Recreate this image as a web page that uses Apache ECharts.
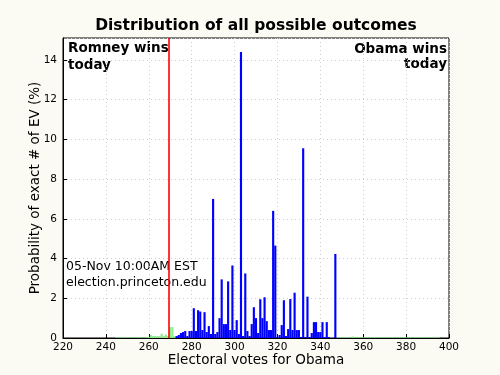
<!DOCTYPE html>
<html>
<head>
<meta charset="utf-8">
<script src="https://cdn.jsdelivr.net/npm/echarts@6/dist/echarts.min.js"></script>
<style>
  html, body { margin: 0; padding: 0; background: #fbfbf3; }
  #chart { width: 500px; height: 375px; }
</style>
</head>
<body>
<div id="chart"></div>
<script>
// electoral votes for Obama, probability of each exact EV count (%)
const xTicks = [220, 240, 260, 280, 300, 320, 340, 360, 380, 400];
const yTicks = [0, 2, 4, 6, 8, 10, 12, 14];
const thresholdEv = 269.5;   // 270 to win

// blue bars, one value per EV starting at blueFirst
const blueFirst = 273;
const bluePct = [
  0.1, 0.15, 0.25, 0.3, 0.35, 0.1, 0.35, 0.35, 1.5, 0.35,   // 273-282
  1.4, 1.33, 0.4, 1.3, 0.3, 0.6, 0.2, 7.0, 0.2, 0.3,        // 283-292
  1.0, 2.95, 0.7, 0.7, 2.85, 0.4, 3.65, 0.4, 0.9, 0.2,      // 293-302
  14.4, 0.1, 3.25, 0.35, 0.1, 0.7, 1.55, 1.0, 0.25, 1.95,   // 303-312
  1.0, 2.05, 0.85, 0.4, 0.4, 6.4, 4.65, 0.05, 0.15, 0.65,   // 313-322
  1.9, 0.1, 0.45, 1.96, 0.4, 2.28, 0.4, 0.4, 0.05, 9.55,    // 323-332
  0.05, 2.08, 0.05, 0.25, 0.8, 0.8, 0.3, 0.3, 0.8, 0.05,    // 333-342
  0.8, 0.05, 0, 0, 4.23                                     // 343-347
];

// green bars, left side starting at greenLeftFirst
const greenLeftFirst = 245;
const greenLeftPct = [
  0.03, 0.03, 0.03, 0.03, 0.03, 0.03, 0.03, 0.03, 0.03, 0.03, // 245-254
  0.03, 0.03, 0.03, 0.03, 0.03, 0.05, 0.15, 0.1, 0.1, 0.1,    // 255-264
  0.1, 0.22, 0.1, 0.17, 0.1, 0.55, 0.55, 0.1                  // 265-272
];
// green tail on the right, starting at greenRightFirst
const greenRightFirst = 348;
const greenRightPct = [
  0.03, 0.03, 0.03, 0.03, 0.03, 0.03, 0.03, 0.08, 0.03, 0.03, // 348-357
  0.03, 0.03, 0.03, 0.03, 0.03, 0.03, 0.03, 0.03, 0.03, 0.03, // 358-367
  0.03, 0.03, 0.03, 0.03, 0.03, 0.03, 0.03, 0.03, 0.03, 0.03, // 368-377
  0.03, 0.03, 0.03, 0.03, 0.03, 0.03, 0.03, 0.03, 0.03, 0.03, // 378-387
  0.03, 0.03, 0.03, 0.03, 0.03, 0.03, 0.03, 0.03              // 388-395
];

function toPairs(first, arr) {
  return arr.map(function (v, i) { return [first + i, v]; });
}

// one bar per EV, 1 EV wide
function renderBar(params, api) {
  const ev = api.value(0);
  const v = api.value(1);
  const p0 = api.coord([ev - 0.5, v]);
  const p1 = api.coord([ev + 0.5, 0]);
  return {
    type: 'rect',
    shape: { x: p0[0], y: p0[1], width: p1[0] - p0[0], height: p1[1] - p0[1] },
    style: { fill: api.visual('color') }
  };
}

const chart = echarts.init(document.getElementById('chart'), null, { renderer: 'canvas' });
const font = 'DejaVu Sans';

const option = {
  backgroundColor: '#fbfbf3',
  animation: false,
  title: {
    text: 'Distribution of all possible outcomes',
    left: 251,
    textAlign: 'center',
    top: 13,
    textStyle: { fontFamily: font, fontSize: 15.5, fontWeight: 'bold', color: '#000' }
  },
  grid: {
    left: 63, right: 51, top: 38, bottom: 37,
    outerBoundsMode: 'none',
    show: true, backgroundColor: '#ffffff', borderColor: '#000', borderWidth: 1
  },
  xAxis: {
    type: 'value',
    min: xTicks[0], max: xTicks[xTicks.length - 1], interval: 20,
    name: 'Electoral votes for Obama',
    nameLocation: 'middle', nameGap: 15, nameMoveOverlap: false,
    nameTextStyle: { fontFamily: font, fontSize: 13.5, color: '#000', verticalAlign: 'top' },
    axisLine: { lineStyle: { color: '#000' } },
    axisTick: { inside: true, length: 4, lineStyle: { color: '#000' } },
    axisLabel: { fontFamily: font, fontSize: 10.5, color: '#000', margin: 4 },
    splitLine: { show: true, lineStyle: { color: '#cfcfcf', type: [1, 3] } }
  },
  yAxis: {
    type: 'value',
    min: 0, max: 15.1, interval: 2,
    name: 'Probability of exact # of EV (%)',
    nameLocation: 'middle', nameGap: 21, nameMoveOverlap: false,
    nameTextStyle: { fontFamily: font, fontSize: 13.5, color: '#000', verticalAlign: 'bottom' },
    axisLine: { lineStyle: { color: '#000' } },
    axisTick: { inside: true, length: 4, lineStyle: { color: '#000' } },
    axisLabel: {
      fontFamily: font, fontSize: 10.5, color: '#000', margin: 6,
      showMaxLabel: false,
      formatter: function (v) { return yTicks.indexOf(v) >= 0 ? String(v) : ''; }
    },
    splitLine: { show: true, lineStyle: { color: '#cfcfcf', type: [1, 3] } }
  },
  series: [
    {
      type: 'custom', name: 'greenLeft', renderItem: renderBar,
      itemStyle: { color: '#90ee90' },
      data: toPairs(greenLeftFirst, greenLeftPct)
    },
    {
      type: 'custom', name: 'greenRight', renderItem: renderBar,
      itemStyle: { color: '#90ee90' },
      data: toPairs(greenRightFirst, greenRightPct)
    },
    {
      type: 'custom', name: 'blue', renderItem: renderBar,
      itemStyle: { color: '#0000ff' },
      data: toPairs(blueFirst, bluePct)
    },
    {
      type: 'line', name: 'threshold', data: [],
      markLine: {
        silent: true, symbol: 'none',
        label: { show: false },
        lineStyle: { color: '#ff0000', width: 1.6, type: 'solid' },
        data: [{ xAxis: thresholdEv }]
      }
    }
  ],
  graphic: [
    {
      type: 'text', x: 68, y: 40,
      style: { text: 'Romney wins\ntoday', font: 'bold 13.5px "DejaVu Sans"', fill: '#000', lineHeight: 17 }
    },
    {
      type: 'text', x: 447, y: 42,
      style: { text: 'Obama wins', font: 'bold 13.5px "DejaVu Sans"', fill: '#000', align: 'right' }
    },
    {
      type: 'text', x: 447, y: 57,
      style: { text: 'today', font: 'bold 13.5px "DejaVu Sans"', fill: '#000', align: 'right' }
    },
    {
      type: 'text', x: 66, y: 259,
      style: { text: '05-Nov 10:00AM EST\nelection.princeton.edu', font: '12.5px "DejaVu Sans"', fill: '#000', lineHeight: 16 }
    }
  ]
};

chart.setOption(option);
</script>
</body>
</html>
